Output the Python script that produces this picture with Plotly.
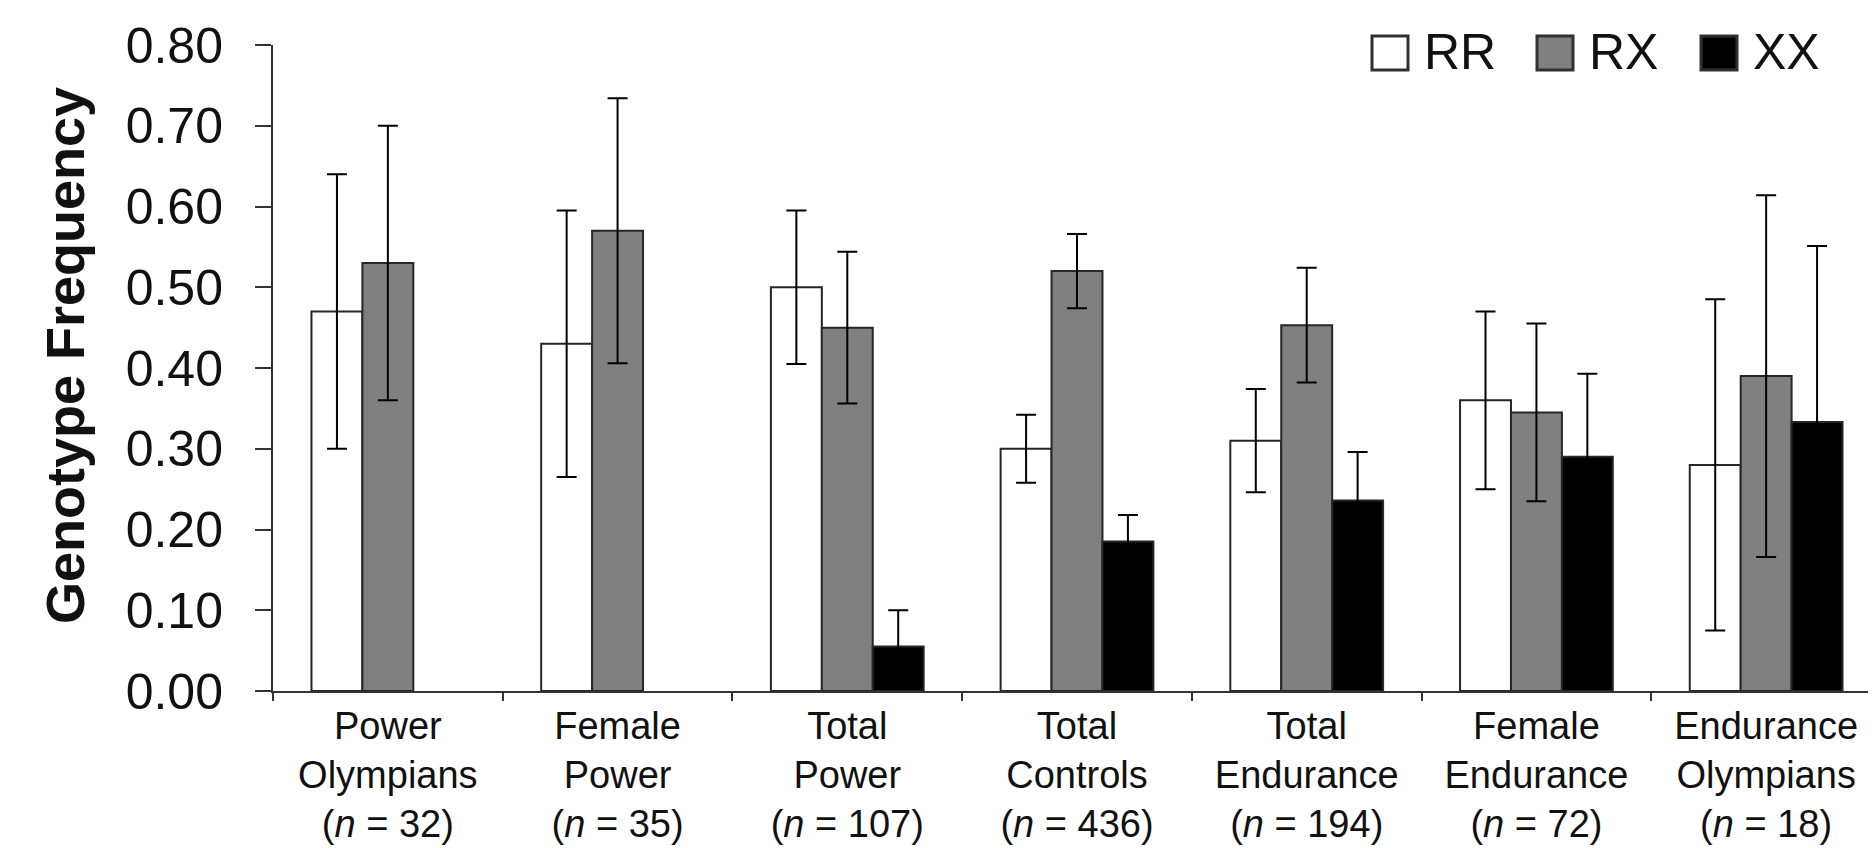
import plotly.graph_objects as go

# ---- data ----
categories = [
    "Power<br>Olympians<br>(<i>n</i> = 32)",
    "Female<br>Power<br>(<i>n</i> = 35)",
    "Total<br>Power<br>(<i>n</i> = 107)",
    "Total<br>Controls<br>(<i>n</i> = 436)",
    "Total<br>Endurance<br>(<i>n</i> = 194)",
    "Female<br>Endurance<br>(<i>n</i> = 72)",
    "Endurance<br>Olympians<br>(<i>n</i> = 18)",
]
series_names = ["RR", "RX", "XX"]
rr = [0.47, 0.43, 0.50, 0.30, 0.31, 0.36, 0.28]
rr_err = [0.17, 0.165, 0.095, 0.042, 0.064, 0.11, 0.205]
rx = [0.53, 0.57, 0.45, 0.52, 0.453, 0.345, 0.39]
rx_err = [0.17, 0.164, 0.094, 0.046, 0.071, 0.11, 0.224]
xx = [None, None, 0.055, 0.185, 0.236, 0.29, 0.333]
xx_err = [None, None, 0.045, 0.033, 0.06, 0.103, 0.218]
y_ticks = [0.0, 0.1, 0.2, 0.3, 0.4, 0.5, 0.6, 0.7, 0.8]

# ---- styling ----
W, H = 1876, 848
L, R, T, B = 265, 3, 37, 165
FONT = "Liberation Sans, Arial, Helvetica, sans-serif"
fills = ["#ffffff", "#808080", "#000000"]
edge = "#262626"

fig = go.Figure()
for name, vals, errs, fill in zip(series_names, [rr, rx, xx], [rr_err, rx_err, xx_err], fills):
    fig.add_trace(go.Bar(
        name=name, x=categories, y=vals,
        marker=dict(color=fill, line=dict(color=edge, width=2)),
        error_y=dict(type="data", array=errs, visible=True,
                     color="#000000", thickness=2, width=10),
        showlegend=False,
    ))

pw = W - L - R
ph = H - T - B
def px_x(x):
    return (x - L) / pw
def px_y(y):
    return (H - B - y) / ph

# manual legend (large square swatches like the reference)
legend_items = [("RR", fills[0], 1364), ("RX", fills[1], 1529), ("XX", fills[2], 1693)]
shapes = []
annotations = []
for name, fill, x0 in legend_items:
    shapes.append(dict(type="rect", xref="paper", yref="paper",
                       x0=px_x(x0), x1=px_x(x0 + 36), y0=px_y(62), y1=px_y(28),
                       fillcolor=fill, line=dict(color="#303030", width=3)))
    annotations.append(dict(text=name, xref="paper", yref="paper",
                            x=px_x(x0 + 50), y=px_y(44), xanchor="left", yanchor="middle",
                            showarrow=False, font=dict(family=FONT, size=50, color="#111")))

annotations.append(dict(text="<b>Genotype Frequency</b>", xref="paper", yref="paper",
                        x=px_x(57), y=px_y(348), xanchor="center", yanchor="middle",
                        textangle=-90, showarrow=False,
                        font=dict(family=FONT, size=54, color="#111")))

fig.update_layout(
    width=W, height=H,
    margin=dict(l=L, r=R, t=T, b=B, autoexpand=False),
    paper_bgcolor="white", plot_bgcolor="white",
    barmode="group", bargap=0.335, bargroupgap=0.0,
    shapes=shapes, annotations=annotations,
    showlegend=False,
)
fig.update_xaxes(
    type="category", range=[-0.5, 6.5],
    showline=True, linecolor="#333", linewidth=2,
    ticks="outside", tickson="boundaries", ticklen=8, tickcolor="#333", tickwidth=2,
    tickfont=dict(family=FONT, size=38, color="#111"),
    showgrid=False, automargin=False,
)
fig.update_yaxes(
    range=[0, 0.8], tickvals=y_ticks, ticktext=[f"{v:.2f}" for v in y_ticks],
    showline=True, linecolor="#333", linewidth=2,
    ticks="outside", ticklen=16, tickcolor="#333", tickwidth=2,
    ticklabelstandoff=22,
    tickfont=dict(family=FONT, size=50, color="#111"),
    showgrid=False, zeroline=False, automargin=False,
)

fig.write_html("out.html")
